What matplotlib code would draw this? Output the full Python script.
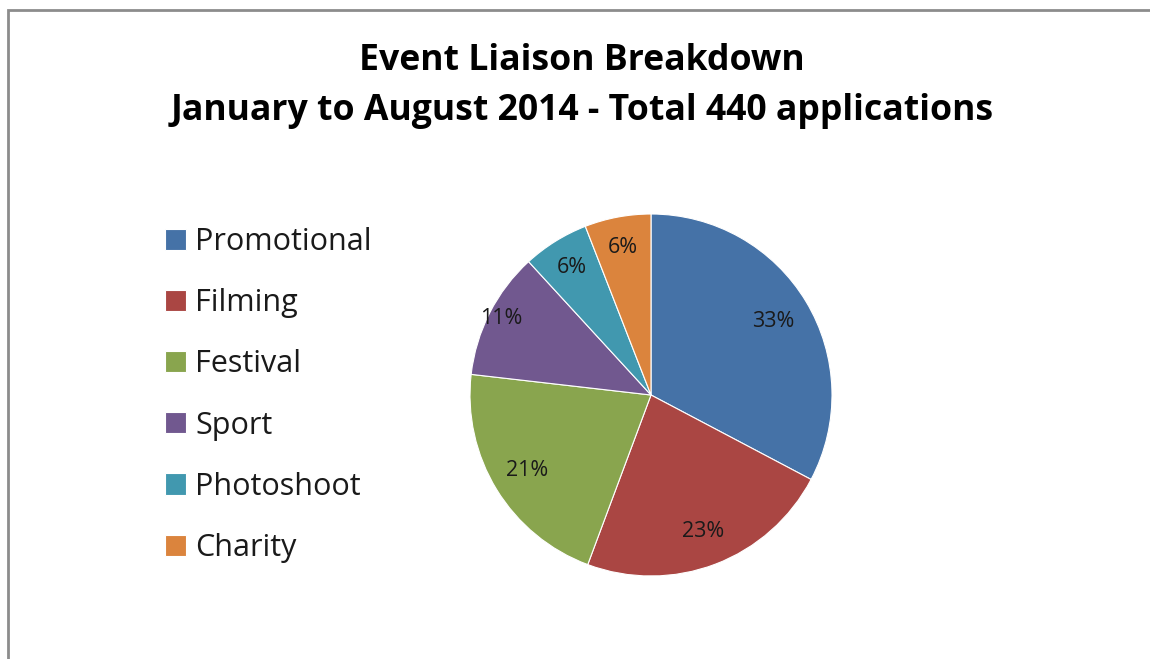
import numpy as np
import matplotlib
matplotlib.use("Agg")
import matplotlib.pyplot as plt
from matplotlib.patches import Rectangle

categories = ["Promotional", "Filming", "Festival", "Sport", "Photoshoot", "Charity"]
counts = [144, 101, 93, 50, 26, 26]
colors = ["#4572A7", "#AA4643", "#89A54E", "#71588F", "#4198AF", "#DB843D"]
title_lines = ["Event Liaison Breakdown", "January to August 2014 - Total 440 applications"]

plt.rcParams['font.family'] = ['Open Sans', 'DejaVu Sans']

W, H = 1150, 659
fig = plt.figure(figsize=(W / 100, H / 100), dpi=100)
fig.patch.set_facecolor("white")

# outer chart frame (cut off at right and bottom)
fig.patches.append(Rectangle((8 / W, -0.1), 1.2, 1 - 10 / H + 0.1, transform=fig.transFigure,
                             fill=False, edgecolor="#8c8c8c", linewidth=2.0))

cx, cy, r = 651, 395, 181
ax = fig.add_axes([(cx - r) / W, (H - cy - r) / H, 2 * r / W, 2 * r / H])
wedges, _ = ax.pie(counts, colors=colors, startangle=90, counterclock=False, radius=1,
                   wedgeprops=dict(edgecolor="white", linewidth=0.8))
ax.set_xlim(-1, 1)
ax.set_ylim(-1, 1)
ax.set_aspect("equal")
ax.axis("off")

total = sum(counts)
dists = [0.79, 0.81, 0.80, 0.93, 0.83, 0.83]
for w, c, d in zip(wedges, counts, dists):
    ang = np.deg2rad((w.theta1 + w.theta2) / 2)
    ax.text(d * np.cos(ang), d * np.sin(ang), f"{round(100 * c / total)}%",
            ha="center", va="center", fontsize=15.5, color="#1a1a1a")

tx = 582 / W
fig.text(tx, 1 - 61 / H, title_lines[0], ha="center", va="center",
         fontsize=25.7, fontweight="bold", color="black")
fig.text(tx, 1 - 111 / H, title_lines[1], ha="center", va="center",
         fontsize=25.7, fontweight="bold", color="black")

leg = fig.legend(wedges, categories, loc="center left", bbox_to_anchor=(165 / W, 1 - 395 / H),
                 frameon=False, fontsize=22, handlelength=0.69, handleheight=0.69,
                 handletextpad=0.3, labelspacing=1.02, borderpad=0, borderaxespad=0)
for t in leg.get_texts():
    t.set_color("#1a1a1a")

fig.savefig("out.png", dpi=100)
